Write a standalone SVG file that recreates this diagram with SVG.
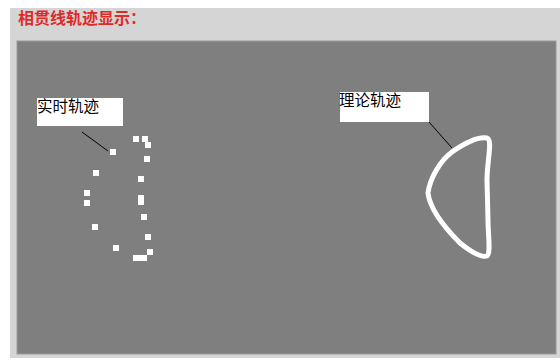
<svg xmlns="http://www.w3.org/2000/svg" width="560" height="362" viewBox="0 0 560 362">
<style>
.lbl{font-family:"Liberation Sans","Noto Sans CJK SC",sans-serif;font-size:15.5px;fill:#000}
.box{fill:#fff}
.lead{stroke:#000;stroke-width:1}
.dot{fill:#fff}
</style>
<rect x="0" y="0" width="560" height="362" fill="#fff"/>
<rect x="10" y="8" width="550" height="350" fill="#d5d5d5"/>
<text x="18" y="24" font-family="Liberation Sans,'Noto Sans CJK SC',sans-serif" font-size="16" font-weight="bold" fill="#e02a2a">相贯线轨迹显示：</text>
<rect x="17" y="41" width="539" height="313" fill="#7f7f7f" stroke="#9a9a9a" stroke-width="1"/>
<g id="connectors">
<line class="lead" x1="82" y1="132" x2="108" y2="151"/>
<line class="lead" x1="429" y1="122" x2="452" y2="148"/>
</g>
<g id="label-realtime">
<rect class="box" x="37" y="98" width="86" height="28"/>
<text class="lbl" x="37" y="112">实时轨迹</text>
</g>
<g id="label-theory">
<rect class="box" x="340" y="92" width="89" height="30"/>
<text class="lbl" x="339" y="106">理论轨迹</text>
</g>
<g id="realtime-track">
<rect class="dot" x="133" y="136" width="6" height="6"/>
<rect class="dot" x="142" y="136" width="6" height="6"/>
<rect class="dot" x="145" y="142" width="6" height="6"/>
<rect class="dot" x="144" y="156" width="6" height="6"/>
<rect class="dot" x="110" y="149" width="6" height="6"/>
<rect class="dot" x="93" y="170" width="6" height="6"/>
<rect class="dot" x="138" y="176" width="6" height="6"/>
<rect class="dot" x="84" y="190" width="6" height="6"/>
<rect class="dot" x="84" y="200" width="6" height="6"/>
<rect class="dot" x="138" y="195" width="6" height="10"/>
<rect class="dot" x="141" y="214" width="6" height="6"/>
<rect class="dot" x="92" y="224" width="6" height="6"/>
<rect class="dot" x="145" y="234" width="6" height="6"/>
<rect class="dot" x="113" y="245" width="6" height="6"/>
<rect class="dot" x="147" y="249" width="6" height="6"/>
<rect class="dot" x="133" y="255" width="14" height="6"/>
</g>
<g id="theory-track">
<path d="M487,138 C476,136 462,145 452,152 C440,161 430,178 428,193 C430,210 445,228 460,243 C470,251 481,258 487,256 C491,253 488,235 488,220 L487,180 C487,160 493,140 487,138 Z" fill="none" stroke="#fff" stroke-width="5" stroke-linejoin="round"/>
</g>
</svg>
